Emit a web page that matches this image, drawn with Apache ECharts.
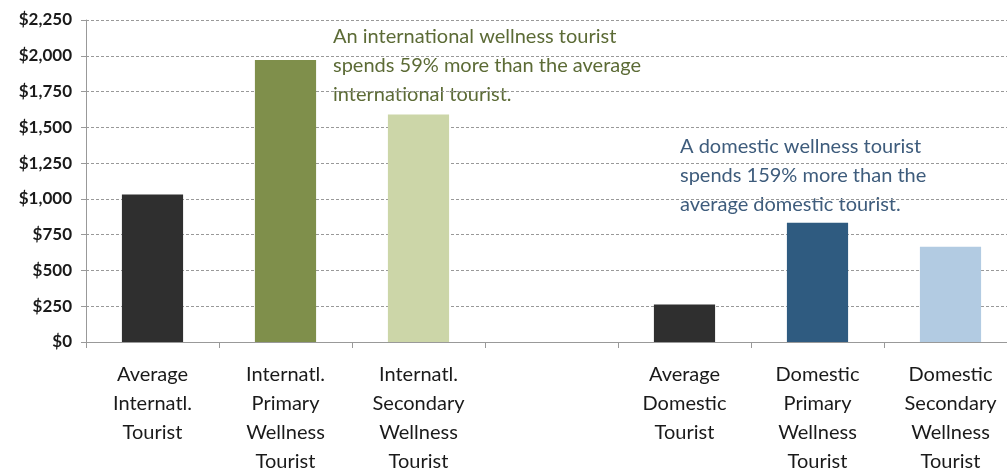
<!DOCTYPE html>
<html><head><meta charset="utf-8">
<script src="https://cdn.jsdelivr.net/npm/echarts@6/dist/echarts.min.js"></script>
<style>html,body{margin:0;padding:0;background:#fff;}#c{width:1007px;height:471px;}</style>
</head><body><div id="c"></div>
<script>
const categories = ['Average\nInternatl.\nTourist','Internatl.\nPrimary\nWellness\nTourist','Internatl.\nSecondary\nWellness\nTourist','','Average\nDomestic\nTourist','Domestic\nPrimary\nWellness\nTourist','Domestic\nSecondary\nWellness\nTourist'];
const spending = [1030, 1970, 1590, null, 262, 834, 666];
const barColors = ['#2f2f2f','#7f8f4b','#ccd6a8',null,'#2f2f2f','#2f5b80','#b2cbe2'];
const yTicks = {min:0, max:2250, interval:250};
const noteIntl = 'An international wellness tourist\nspends 59% more than the average\ninternational tourist.';
const noteDom = 'A domestic wellness tourist\nspends 159% more than the\naverage domestic tourist.';

const chart = echarts.init(document.getElementById('c'));
const font = 'Lato, "Open Sans", sans-serif';
chart.setOption({
  animation:false,
  grid:{left:86, top:20, width:931, height:322, containLabel:false, outerBoundsMode:'none'},
  xAxis:{type:'category', data:categories,
    axisLine:{lineStyle:{color:'#999', width:1}},
    axisTick:{show:true, length:6, lineStyle:{color:'#999'}},
    axisLabel:{color:'#1a1a1a', fontSize:20, lineHeight:29, margin:18, fontFamily:font, interval:0}},
  yAxis:{type:'value', min:yTicks.min, max:yTicks.max, interval:yTicks.interval,
    axisLine:{show:true, lineStyle:{color:'#999'}},
    axisTick:{show:true, length:5, lineStyle:{color:'#999'}},
    splitLine:{lineStyle:{color:'#999', type:[3,2], width:1}},
    axisLabel:{color:'#1a1a1a', fontSize:17, fontWeight:'bold', fontFamily:font, margin:14,
      formatter:v=>'$'+v.toLocaleString('en-US')}},
  series:[{type:'bar', barWidth:'46%',
    data:spending.map((v,i)=>({value:v, itemStyle:{color:barColors[i]}}))}],
  graphic:[
    {type:'text', left:333, top:22, style:{text:noteIntl, fill:'#5c6b36', font:'20px '+font, lineHeight:29}},
    {type:'text', left:680, top:132, style:{text:noteDom, fill:'#3e5c7c', font:'20px '+font, lineHeight:29}}
  ]
});
</script></body></html>
